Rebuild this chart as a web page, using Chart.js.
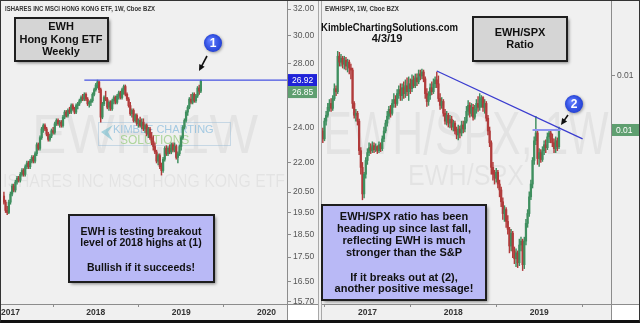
<!DOCTYPE html>
<html>
<head>
<meta charset="utf-8">
<script src="https://cdn.jsdelivr.net/npm/chart.js@4.4.1/dist/chart.umd.min.js"></script>
<style>
  html, body { margin: 0; padding: 0; background: #fff; }
  #wrap { position: relative; width: 640px; height: 323px; overflow: hidden; background: #f0f0f0; }
  #left { position: absolute; left: 0; top: 0; }
  #right { position: absolute; left: 321px; top: 0; }
  #frame { position: absolute; left: 0; top: 0; width: 640px; height: 323px; box-sizing: border-box;
           border: 1px solid #333; border-bottom: 3px solid #111; pointer-events: none; }
</style>
</head>
<body>
<div id="wrap">
  <canvas id="left" width="319" height="323"></canvas>
  <canvas id="right" width="319" height="323"></canvas>
  <div id="frame"></div>
</div>
<script>
const SANS = '"Liberation Sans", Arial, Helvetica, sans-serif';
const UP = '#3f8f5f';
const DOWN = '#b13b3b';

const yearTicks = ['2017', '2018', '2019', '2020'];

// EWH weekly candles [open, high, low, close], first week starts 2016-12-05
const ewhStart = '2016-12-05';
const ewhWeeks = 173;
const ewhOHLC = [
  [20.3, 20.5, 19.9, 20.0], [20.0, 20.1, 19.5, 19.6], [19.6, 19.8, 19.4, 19.5], [19.5, 20.1, 19.45, 20.0],
  [20.0, 20.5, 19.9, 20.4], [20.4, 20.9, 20.3, 20.8], [20.8, 20.9, 20.5, 20.6], [20.6, 21.1, 20.5, 21.0],
  [21.0, 21.3, 20.9, 21.2], [21.2, 21.3, 21.0, 21.1], [21.1, 21.5, 21.0, 21.4], [21.4, 21.7, 21.3, 21.6],
  [21.6, 21.7, 21.3, 21.4], [21.4, 21.9, 21.3, 21.8], [21.8, 22.1, 21.7, 22.0], [22.0, 22.1, 21.7, 21.8],
  [21.8, 22.2, 21.7, 22.1], [22.1, 22.4, 22.0, 22.3], [22.3, 22.4, 22.0, 22.1], [22.1, 22.6, 22.0, 22.5],
  [22.5, 23.1, 22.4, 23.0], [23.0, 23.1, 22.7, 22.8], [22.8, 23.5, 22.7, 23.4], [23.4, 24.0, 23.3, 23.9],
  [23.9, 24.2, 23.7, 24.1], [24.1, 24.2, 23.8, 23.9], [23.9, 24.0, 23.5, 23.6], [23.6, 23.7, 23.2, 23.3],
  [23.3, 23.6, 23.2, 23.5], [23.5, 23.9, 23.4, 23.8], [23.8, 24.0, 23.6, 23.7], [23.7, 24.3, 23.6, 24.2],
  [24.2, 24.5, 24.1, 24.4], [24.4, 24.5, 24.1, 24.2], [24.2, 24.4, 24.0, 24.3], [24.3, 24.4, 24.0, 24.1],
  [24.1, 24.7, 24.0, 24.6], [24.6, 25.0, 24.5, 24.9], [24.9, 25.0, 24.6, 24.7], [24.7, 25.1, 24.6, 25.0],
  [25.0, 25.2, 24.8, 24.9], [24.9, 25.4, 24.8, 25.3], [25.3, 25.4, 25.0, 25.1], [25.1, 25.2, 24.8, 24.9],
  [24.9, 25.4, 24.8, 25.3], [25.3, 25.5, 25.1, 25.4], [25.4, 25.7, 25.3, 25.6], [25.6, 25.9, 25.5, 25.8],
  [25.8, 26.0, 25.6, 25.7], [25.7, 26.1, 25.6, 26.0], [26.0, 26.1, 25.6, 25.7], [25.7, 25.8, 25.3, 25.4],
  [25.4, 25.6, 25.2, 25.5], [25.5, 25.7, 25.3, 25.6], [25.6, 26.1, 25.5, 26.0], [26.0, 26.4, 25.9, 26.3],
  [26.3, 26.7, 26.2, 26.6], [26.6, 26.92, 26.4, 26.8], [26.8, 26.85, 26.1, 26.3], [26.3, 26.4, 24.3, 24.6],
  [24.6, 25.5, 24.5, 25.4], [25.4, 25.9, 25.3, 25.8], [25.8, 26.2, 25.6, 25.7], [25.7, 25.8, 25.1, 25.2],
  [25.2, 25.6, 25.0, 25.5], [25.5, 25.6, 25.0, 25.1], [25.1, 25.7, 25.0, 25.6], [25.6, 25.9, 25.4, 25.8],
  [25.8, 25.9, 25.4, 25.5], [25.5, 26.0, 25.4, 25.9], [25.9, 26.2, 25.7, 26.1], [26.1, 26.2, 25.7, 25.8],
  [25.8, 26.4, 25.7, 26.3], [26.3, 26.6, 26.0, 26.5], [26.5, 26.6, 25.9, 26.0], [26.0, 26.1, 25.6, 25.7],
  [25.7, 25.8, 25.2, 25.3], [25.3, 25.5, 24.7, 24.8], [24.8, 25.1, 24.6, 25.0], [25.0, 25.1, 24.3, 24.4],
  [24.4, 24.8, 24.3, 24.7], [24.7, 24.8, 24.1, 24.2], [24.2, 24.5, 24.0, 24.4], [24.4, 24.6, 24.0, 24.1],
  [24.1, 24.5, 23.9, 24.3], [24.3, 24.5, 23.8, 23.9], [23.9, 24.2, 23.7, 24.1], [24.1, 24.2, 23.5, 23.6],
  [23.6, 24.0, 23.4, 23.9], [23.9, 24.0, 23.3, 23.4], [23.4, 23.7, 23.0, 23.2], [23.2, 23.5, 22.7, 22.9],
  [22.9, 23.1, 22.5, 22.6], [22.6, 22.7, 22.0, 22.1], [22.1, 22.5, 21.9, 22.4], [22.4, 22.5, 21.7, 21.8],
  [21.8, 22.0, 21.36, 21.6], [21.6, 22.3, 21.5, 22.2], [22.2, 22.9, 22.1, 22.8], [22.8, 22.95, 22.4, 22.5],
  [22.5, 22.9, 22.4, 22.8], [22.8, 23.0, 22.5, 22.6], [22.6, 23.1, 22.5, 23.0], [23.0, 23.1, 22.6, 22.7],
  [22.7, 23.1, 22.6, 22.9], [22.9, 23.0, 22.2, 22.3], [22.3, 22.6, 22.0, 22.5], [22.5, 23.0, 22.4, 22.9],
  [22.9, 23.5, 22.7, 23.4], [23.4, 24.1, 23.3, 24.0], [24.0, 24.5, 23.9, 24.4], [24.4, 25.0, 24.3, 24.9],
  [24.9, 25.3, 24.7, 25.2], [25.2, 25.8, 25.1, 25.7], [25.7, 26.0, 25.4, 25.5], [25.5, 26.1, 25.4, 26.0],
  [26.0, 26.1, 25.5, 25.6], [25.6, 26.0, 25.5, 25.9], [25.9, 26.5, 25.8, 26.4], [26.4, 26.6, 26.0, 26.2],
  [26.2, 26.92, 26.1, 26.85]
];
const ewhTicks = [32, 30, 28, 24, 22, 20.5, 19.5, 18.5, 17.5, 16.5, 15.7];
const ewhBreakout = 26.92;    // 2018 high
const ewhBreakoutFrom = 49;   // week where the level line begins

// EWH/SPX weekly ratio candles [open, high, low, close], first week starts 2016-06-27
const ratioStart = '2016-06-27';
const ratioWeeks = 175;
const ratioOHLC = [
  [0.00944, 0.00947, 0.00932, 0.00936], [0.00936, 0.00957, 0.00934, 0.00954], [0.00954, 0.00964, 0.00950, 0.00960],
  [0.00960, 0.00972, 0.00958, 0.00968], [0.00968, 0.00976, 0.00964, 0.00972], [0.00972, 0.00977, 0.00964, 0.00967],
  [0.00967, 0.00980, 0.00965, 0.00977], [0.00977, 0.00992, 0.00975, 0.00987], [0.00987, 0.00990, 0.00980, 0.00984],
  [0.00984, 0.01025, 0.00982, 0.01020], [0.01020, 0.01024, 0.01010, 0.01014], [0.01014, 0.01022, 0.01010, 0.01018],
  [0.01018, 0.01020, 0.01008, 0.01012], [0.01012, 0.01020, 0.01007, 0.01016], [0.01016, 0.01019, 0.01006, 0.01010],
  [0.01010, 0.01017, 0.01004, 0.01014], [0.01014, 0.01016, 0.01002, 0.01008], [0.01008, 0.01012, 0.00997, 0.01006],
  [0.01006, 0.01008, 0.00967, 0.00972], [0.00972, 0.00974, 0.00957, 0.00960], [0.00960, 0.00966, 0.00954, 0.00962],
  [0.00962, 0.00964, 0.00950, 0.00954], [0.00954, 0.00956, 0.00920, 0.00924], [0.00924, 0.00927, 0.00900, 0.00907],
  [0.00907, 0.00912, 0.00874, 0.00880], [0.00880, 0.00902, 0.00876, 0.00900], [0.00900, 0.00917, 0.00896, 0.00914],
  [0.00914, 0.00926, 0.00910, 0.00922], [0.00922, 0.00932, 0.00919, 0.00927], [0.00927, 0.00931, 0.00921, 0.00924],
  [0.00924, 0.00933, 0.00922, 0.00929], [0.00929, 0.00932, 0.00922, 0.00925], [0.00925, 0.00931, 0.00923, 0.00928],
  [0.00928, 0.00929, 0.00921, 0.00924], [0.00924, 0.00933, 0.00922, 0.00930], [0.00930, 0.00932, 0.00923, 0.00926],
  [0.00926, 0.00939, 0.00924, 0.00936], [0.00936, 0.00948, 0.00933, 0.00944], [0.00944, 0.00955, 0.00942, 0.00952],
  [0.00952, 0.00964, 0.00949, 0.00959], [0.00959, 0.00969, 0.00956, 0.00966], [0.00966, 0.00970, 0.00958, 0.00962],
  [0.00962, 0.00976, 0.00960, 0.00972], [0.00972, 0.00982, 0.00968, 0.00976], [0.00976, 0.00980, 0.00968, 0.00972],
  [0.00972, 0.00986, 0.00970, 0.00982], [0.00982, 0.00990, 0.00977, 0.00986], [0.00986, 0.00992, 0.00975, 0.00980],
  [0.00980, 0.00992, 0.00975, 0.00988], [0.00988, 0.00994, 0.00977, 0.00982], [0.00982, 0.00996, 0.00978, 0.00990],
  [0.00990, 0.00998, 0.00980, 0.00984], [0.00984, 0.00999, 0.00975, 0.00992], [0.00992, 0.00997, 0.00982, 0.00987],
  [0.00987, 0.01001, 0.00984, 0.00996], [0.00996, 0.01000, 0.00988, 0.00990], [0.00990, 0.01002, 0.00988, 0.00998],
  [0.00998, 0.01002, 0.00990, 0.00994], [0.00994, 0.01006, 0.00992, 0.01002], [0.01002, 0.01006, 0.00996, 0.01000],
  [0.01000, 0.01007, 0.00997, 0.01004], [0.01004, 0.01006, 0.00994, 0.00997], [0.00997, 0.00999, 0.00977, 0.00982],
  [0.00982, 0.00987, 0.00969, 0.00974], [0.00974, 0.00984, 0.00970, 0.00980], [0.00980, 0.00992, 0.00976, 0.00988],
  [0.00988, 0.00994, 0.00981, 0.00984], [0.00984, 0.00997, 0.00982, 0.00992], [0.00992, 0.00999, 0.00988, 0.00996],
  [0.00996, 0.01004, 0.00988, 0.00992], [0.00992, 0.01000, 0.00974, 0.00977], [0.00977, 0.00982, 0.00966, 0.00970],
  [0.00970, 0.00978, 0.00967, 0.00974], [0.00974, 0.00976, 0.00959, 0.00962], [0.00962, 0.00966, 0.00951, 0.00954],
  [0.00954, 0.00964, 0.00950, 0.00960], [0.00960, 0.00962, 0.00948, 0.00952], [0.00952, 0.00960, 0.00947, 0.00956],
  [0.00956, 0.00959, 0.00945, 0.00948], [0.00948, 0.00955, 0.00944, 0.00952], [0.00952, 0.00954, 0.00941, 0.00944],
  [0.00944, 0.00948, 0.00936, 0.00940], [0.00940, 0.00950, 0.00935, 0.00946], [0.00946, 0.00949, 0.00937, 0.00942],
  [0.00942, 0.00954, 0.00939, 0.00950], [0.00950, 0.00954, 0.00942, 0.00946], [0.00946, 0.00958, 0.00943, 0.00954],
  [0.00954, 0.00969, 0.00952, 0.00964], [0.00964, 0.00975, 0.00960, 0.00970], [0.00970, 0.00973, 0.00958, 0.00962],
  [0.00962, 0.00972, 0.00959, 0.00968], [0.00968, 0.00971, 0.00955, 0.00958], [0.00958, 0.00970, 0.00956, 0.00966],
  [0.00966, 0.00976, 0.00962, 0.00972], [0.00972, 0.00979, 0.00964, 0.00968], [0.00968, 0.00982, 0.00965, 0.00976],
  [0.00976, 0.00980, 0.00968, 0.00978], [0.00978, 0.00979, 0.00964, 0.00968], [0.00968, 0.00976, 0.00962, 0.00972],
  [0.00972, 0.00974, 0.00954, 0.00957], [0.00957, 0.00960, 0.00940, 0.00944], [0.00944, 0.00948, 0.00928, 0.00932],
  [0.00932, 0.00934, 0.00900, 0.00907], [0.00907, 0.00912, 0.00894, 0.00900], [0.00900, 0.00904, 0.00890, 0.00896],
  [0.00896, 0.00906, 0.00892, 0.00902], [0.00902, 0.00904, 0.00886, 0.00890], [0.00890, 0.00894, 0.00877, 0.00884],
  [0.00884, 0.00887, 0.00867, 0.00872], [0.00872, 0.00876, 0.00854, 0.00860], [0.00860, 0.00868, 0.00852, 0.00864],
  [0.00864, 0.00866, 0.00846, 0.00852], [0.00852, 0.00858, 0.00839, 0.00844], [0.00844, 0.00846, 0.00820, 0.00827],
  [0.00827, 0.00844, 0.00822, 0.00840], [0.00840, 0.00842, 0.00815, 0.00822], [0.00822, 0.00826, 0.00809, 0.00814],
  [0.00814, 0.00824, 0.00806, 0.00820], [0.00820, 0.00822, 0.00805, 0.00810], [0.00810, 0.00834, 0.00807, 0.00828],
  [0.00828, 0.00836, 0.00822, 0.00832], [0.00832, 0.00834, 0.00802, 0.00808], [0.00808, 0.00836, 0.00804, 0.00832],
  [0.00832, 0.00854, 0.00828, 0.00850], [0.00850, 0.00864, 0.00846, 0.00860], [0.00860, 0.00882, 0.00857, 0.00877],
  [0.00877, 0.00894, 0.00874, 0.00890], [0.00890, 0.00917, 0.00886, 0.00914], [0.00914, 0.00938, 0.00910, 0.00934],
  [0.00934, 0.00959, 0.00930, 0.00942], [0.00942, 0.00945, 0.00910, 0.00916], [0.00916, 0.00926, 0.00908, 0.00922],
  [0.00922, 0.00925, 0.00912, 0.00915], [0.00915, 0.00928, 0.00913, 0.00924], [0.00924, 0.00934, 0.00920, 0.00930],
  [0.00930, 0.00935, 0.00922, 0.00927], [0.00927, 0.00942, 0.00925, 0.00938], [0.00938, 0.00945, 0.00932, 0.00942],
  [0.00942, 0.00944, 0.00932, 0.00936], [0.00936, 0.00941, 0.00928, 0.00932], [0.00932, 0.00936, 0.00922, 0.00926],
  [0.00926, 0.00938, 0.00922, 0.00934], [0.00934, 0.00937, 0.00924, 0.00928], [0.00928, 0.00948, 0.00926, 0.00945]
];
const ratioTicks = [0.01];
const ratioTrend = [[69, 0.01005], [157.3, 0.00936]];   // falling resistance, [week, value]
const ratioLevel = { from: 127, to: 144, value: 0.00945 };

// weekly category labels (Monday dates)
function weekLabels(start, count) {
  const t0 = Date.parse(start + 'T00:00:00Z');
  const out = [];
  for (let i = 0; i < count; i++) out.push(new Date(t0 + i * 7 * 864e5).toISOString().slice(0, 10));
  return out;
}

// week index nearest to Jan 1 of each labelled year
function yearIndex(labels) {
  const idx = {};
  yearTicks.forEach(yr => {
    const t = Date.parse(yr + '-01-01T00:00:00Z');
    let best = -1, bestD = Infinity;
    labels.forEach((l, i) => {
      const d = Math.abs(Date.parse(l + 'T00:00:00Z') - t);
      if (d < bestD) { bestD = d; best = i; }
    });
    if (bestD <= 4 * 864e5) idx[best] = yr;
  });
  return idx;
}

function line(ctx, x1, y1, x2, y2) {
  ctx.beginPath(); ctx.moveTo(x1, y1); ctx.lineTo(x2, y2); ctx.stroke();
}

function noteBox(ctx, x, y, w, h, fill, rows, cx, font) {
  ctx.save();
  ctx.shadowColor = 'rgba(0,0,0,0.45)';
  ctx.shadowOffsetX = 2; ctx.shadowOffsetY = 2; ctx.shadowBlur = 3;
  ctx.fillStyle = fill;
  ctx.fillRect(x, y, w, h);
  ctx.restore();
  ctx.strokeStyle = '#1e1e1e'; ctx.lineWidth = 2;
  ctx.strokeRect(x, y, w, h);
  ctx.fillStyle = '#111'; ctx.font = font;
  ctx.textAlign = 'center'; ctx.textBaseline = 'alphabetic';
  rows.forEach(([t, by]) => ctx.fillText(t, cx, by));
}

function marker(ctx, cx, cy, t) {
  ctx.save();
  ctx.shadowColor = 'rgba(0,0,0,0.35)'; ctx.shadowBlur = 3; ctx.shadowOffsetX = 1; ctx.shadowOffsetY = 1;
  const g = ctx.createRadialGradient(cx - 3, cy - 3, 1, cx, cy, 9);
  g.addColorStop(0, '#5f7cff'); g.addColorStop(1, '#2442d6');
  ctx.fillStyle = g;
  ctx.beginPath(); ctx.arc(cx, cy, 9, 0, Math.PI * 2); ctx.fill();
  ctx.restore();
  ctx.fillStyle = '#fff'; ctx.font = 'bold 12px ' + SANS;
  ctx.textAlign = 'center'; ctx.textBaseline = 'middle';
  ctx.fillText(t, cx, cy + 0.5);
}

function arrow(ctx, x1, y1, x2, y2) {
  const a = Math.atan2(y2 - y1, x2 - x1);
  ctx.strokeStyle = '#111'; ctx.fillStyle = '#111'; ctx.lineWidth = 1.6;
  line(ctx, x1, y1, x2 - 5 * Math.cos(a), y2 - 5 * Math.sin(a));
  ctx.beginPath();
  ctx.moveTo(x2, y2);
  ctx.lineTo(x2 - 7 * Math.cos(a - 0.45), y2 - 7 * Math.sin(a - 0.45));
  ctx.lineTo(x2 - 7 * Math.cos(a + 0.45), y2 - 7 * Math.sin(a + 0.45));
  ctx.closePath(); ctx.fill();
}

function priceTag(ctx, x, yc, w, text, fill) {
  ctx.fillStyle = fill;
  ctx.fillRect(x, yc - 6, w, 12);
  ctx.fillStyle = '#fff'; ctx.font = '8.5px ' + SANS;
  ctx.textAlign = 'left'; ctx.textBaseline = 'middle';
  ctx.fillText(text, x + 4, yc + 0.5);
}

// shared frame lines: price axis, time axis, panel edges
function panelFrame(chart, leftEdge, rightEdge) {
  const { ctx, chartArea: a } = chart;
  ctx.fillStyle = '#fff';
  ctx.fillRect(a.right + 1, a.bottom + 1, chart.width, 30);
  ctx.strokeStyle = '#8c8c8c'; ctx.lineWidth = 1;
  line(ctx, a.right + 0.5, 0, a.right + 0.5, chart.height);
  line(ctx, 0, a.bottom + 0.5, chart.width, a.bottom + 0.5);
  ctx.strokeStyle = '#a8a8a8';
  if (leftEdge) line(ctx, 0.5, 0, 0.5, chart.height);
  if (rightEdge) line(ctx, chart.width - 0.5, 0, chart.width - 0.5, chart.height);
}

function candleChart(id, labels, ohlc, yScale, axisWidth, deco) {
  const colors = ohlc.map(r => (r[3] >= r[0] ? UP : DOWN));
  const years = yearIndex(labels);
  return new Chart(document.getElementById(id), {
    type: 'bar',
    data: {
      labels: labels,
      datasets: [
        { data: ohlc.map(r => [r[2], r[1]]), backgroundColor: colors, barThickness: 0.8, grouped: false, order: 2 },
        { data: ohlc.map(r => [Math.min(r[0], r[3]), Math.max(r[0], r[3])]), backgroundColor: colors,
          barThickness: 1.6, minBarLength: 1, grouped: false, order: 1 }
      ]
    },
    options: {
      responsive: false,
      animation: false,
      events: [],
      layout: { padding: { left: 1, top: 2, right: 0, bottom: 0 } },
      plugins: { legend: { display: false }, tooltip: { enabled: false } },
      scales: {
        x: {
          grid: { drawOnChartArea: false, tickLength: 3, color: '#8c8c8c' },
          border: { display: false },
          afterBuildTicks: s => { s.ticks = Object.keys(years).map(i => ({ value: +i })); },
          afterFit: s => { s.height = 19; },
          ticks: {
            autoSkip: false, maxRotation: 0, padding: 1, color: '#333',
            font: { family: SANS, size: 8.5, weight: 'bold' },
            callback: v => years[v]
          }
        },
        y: Object.assign({
          position: 'right',
          bounds: 'data',
          afterFit: s => { s.width = axisWidth; },
          grid: { drawOnChartArea: false, tickLength: 4, color: '#8c8c8c' },
          border: { display: false }
        }, yScale)
      }
    },
    plugins: [deco]
  });
}

const ewhDeco = {
  id: 'ewhDeco',
  beforeDatasetsDraw(chart) {
    const ctx = chart.ctx;
    ctx.save();
    ctx.fillStyle = 'rgba(0,0,0,0.05)';
    ctx.textAlign = 'center'; ctx.textBaseline = 'alphabetic';
    ctx.font = '55px ' + SANS;
    ctx.fillText('EWH, 1W', 145, 153, 226);
    ctx.font = '19px ' + SANS;
    ctx.fillText('ISHARES INC MSCI HONG KONG ETF', 144, 187, 282);
    // faint Kimble logo
    ctx.strokeStyle = 'rgba(120,170,205,0.35)'; ctx.lineWidth = 1;
    ctx.strokeRect(98.5, 122.5, 132, 23);
    ctx.fillStyle = 'rgba(70,170,195,0.45)';
    ctx.beginPath();
    ctx.moveTo(101, 132); ctx.lineTo(113, 125); ctx.lineTo(108, 132); ctx.lineTo(113, 141);
    ctx.closePath(); ctx.fill();
    ctx.textAlign = 'left';
    ctx.fillStyle = 'rgba(100,170,215,0.55)'; ctx.font = '11px ' + SANS;
    ctx.fillText('KIMBLE CHARTING', 113, 133, 116);
    ctx.fillStyle = 'rgba(130,195,100,0.6)'; ctx.font = '12px ' + SANS;
    ctx.fillText('SOLUTIONS', 120, 144, 72);
    ctx.restore();
  },
  afterDraw(chart) {
    const { ctx, chartArea: a, scales: { x, y } } = chart;
    ctx.save();
    panelFrame(chart, false, true);

    const yb = y.getPixelForValue(ewhBreakout);
    ctx.strokeStyle = '#4652e2'; ctx.lineWidth = 1.2;
    line(ctx, x.getPixelForValue(ewhBreakoutFrom), yb, a.right, yb);

    const last = ewhOHLC[ewhOHLC.length - 1][3];
    priceTag(ctx, a.right + 1, yb, 29, ewhBreakout.toFixed(2), '#1f22d8');
    priceTag(ctx, a.right + 1, Math.max(y.getPixelForValue(last), yb + 12), 29, last.toFixed(2), '#5f9f70');

    noteBox(ctx, 15, 18, 93, 43, '#d5d5d5',
      [['EWH', 30], ['Hong Kong ETF', 43], ['Weekly', 55]], 61, 'bold 11px ' + SANS);
    noteBox(ctx, 69, 215, 145, 67, '#b9b9f6',
      [['EWH is testing breakout', 235], ['level of 2018 highs at (1)', 246], ['Bullish if it succeeds!', 271]],
      141, 'bold 10.5px ' + SANS);

    ctx.fillStyle = '#333'; ctx.font = 'bold 7px ' + SANS;
    ctx.textAlign = 'left'; ctx.textBaseline = 'alphabetic';
    ctx.fillText('ISHARES INC MSCI HONG KONG ETF, 1W, Cboe BZX', 5, 11, 150);

    marker(ctx, 213, 43, '1');
    arrow(ctx, 207, 56, 199, 71);
    ctx.restore();
  }
};

const ratioDeco = {
  id: 'ratioDeco',
  beforeDatasetsDraw(chart) {
    const ctx = chart.ctx;
    ctx.save();
    ctx.fillStyle = 'rgba(0,0,0,0.05)';
    ctx.textAlign = 'center'; ctx.textBaseline = 'alphabetic';
    ctx.font = '62px ' + SANS;
    ctx.fillText('EWH/SPX, 1W', 145, 154, 285);
    ctx.font = '30px ' + SANS;
    ctx.fillText('EWH/SPX', 145, 185, 116);
    ctx.restore();
  },
  afterDraw(chart) {
    const { ctx, chartArea: a, scales: { x, y } } = chart;
    ctx.save();
    panelFrame(chart, true, false);

    ctx.strokeStyle = '#3a3ccf'; ctx.lineWidth = 1.3;
    line(ctx, x.getPixelForValue(ratioTrend[0][0]), y.getPixelForValue(ratioTrend[0][1]),
              x.getPixelForValue(ratioTrend[1][0]), y.getPixelForValue(ratioTrend[1][1]));
    const yl = y.getPixelForValue(ratioLevel.value);
    ctx.strokeStyle = '#8d94f1'; ctx.lineWidth = 2;
    line(ctx, x.getPixelForValue(ratioLevel.from), yl, x.getPixelForValue(ratioLevel.to), yl);

    const last = ratioOHLC[ratioOHLC.length - 1][3];
    priceTag(ctx, a.right + 1, y.getPixelForValue(last), 27, last.toFixed(2), '#5f9f70');

    noteBox(ctx, 152, 17, 94, 44, '#d5d5d5', [['EWH/SPX', 36], ['Ratio', 48]], 199, 'bold 11px ' + SANS);
    noteBox(ctx, 1, 205, 164, 95, '#b9b9f6',
      [['EWH/SPX ratio has been', 220], ['heading up since last fall,', 232], ['reflecting EWH is much', 244],
       ['stronger than the S&P', 256], ['If it breaks out at (2),', 281], ['another positive message!', 292]],
      83, 'bold 11px ' + SANS);

    ctx.fillStyle = '#333'; ctx.font = 'bold 7px ' + SANS;
    ctx.textAlign = 'left'; ctx.textBaseline = 'alphabetic';
    ctx.fillText('EWH/SPX, 1W, Cboe BZX', 4, 11, 74);
    ctx.fillStyle = '#111'; ctx.font = 'bold 11.5px ' + SANS;
    ctx.fillText('KimbleChartingSolutions.com', 0, 31, 137);
    ctx.textAlign = 'center'; ctx.font = 'bold 11px ' + SANS;
    ctx.fillText('4/3/19', 66, 42);

    marker(ctx, 253, 104, '2');
    arrow(ctx, 247, 115, 240, 125);
    ctx.restore();
  }
};

candleChart('left', weekLabels(ewhStart, ewhWeeks), ewhOHLC, {
  type: 'logarithmic', min: 15.61, max: 32.15,
  afterBuildTicks: s => { s.ticks = ewhTicks.map(v => ({ value: v })); },
  ticks: { padding: 2, color: '#555', font: { family: SANS, size: 8.5 }, callback: v => Number(v).toFixed(2) }
}, 32, ewhDeco);

candleChart('right', weekLabels(ratioStart, ratioWeeks), ratioOHLC, {
  type: 'linear', min: 0.00768, max: 0.0107,
  afterBuildTicks: s => { s.ticks = ratioTicks.map(v => ({ value: v })); },
  ticks: { padding: 2, color: '#555', font: { family: SANS, size: 8.5 }, callback: v => Number(v).toFixed(2) }
}, 29, ratioDeco);
</script>
</body>
</html>
